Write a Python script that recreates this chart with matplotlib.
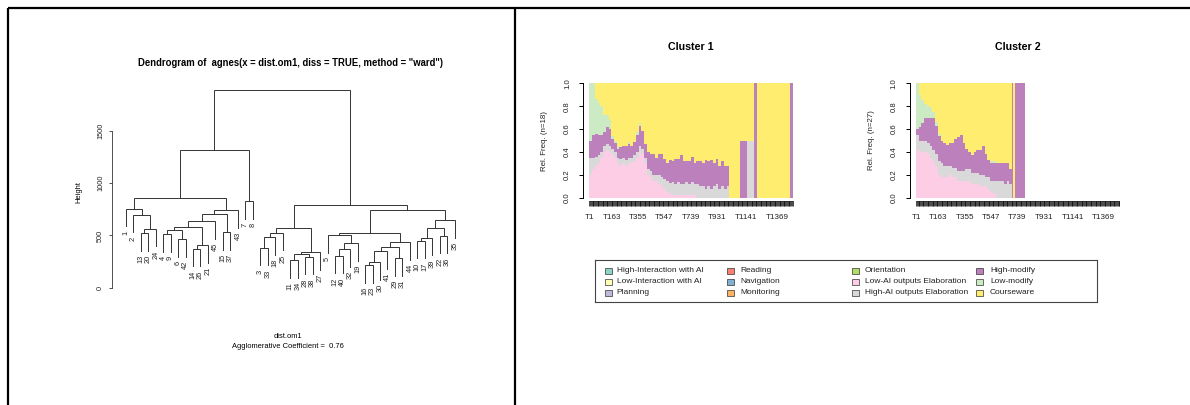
import matplotlib
matplotlib.use("Agg")
import matplotlib.pyplot as plt
from matplotlib.lines import Line2D
from matplotlib.patches import Rectangle

plt.rcParams['font.family'] = ['Liberation Sans', 'DejaVu Sans']

W, H = 1190, 405

# ---- dendrogram data: R-style merge list, negative = leaf label,
# positive = earlier merge (1-based), plus the merge height
merges = [
    (-13, -20, 522), (1, -24, 564), (-2, 2, 697), (-1, 3, 755),
    (-4, -9, 510), (-6, -42, 465), (5, 6, 551), (-14, -26, 373),
    (8, -21, 404), (7, 9, 580), (10, -45, 634), (-15, -37, 529),
    (11, 12, 710), (13, -43, 742), (4, 14, 863), (-7, -8, 828),
    (15, 16, 1315), (-3, -33, 382), (18, -18, 484), (19, -25, 525),
    (-11, -34, 264), (-28, -38, 296), (21, 22, 325), (23, -27, 338),
    (20, 24, 576), (-12, -40, 306), (26, -32, 369), (27, -19, 424),
    (-5, 28, 503), (-16, -23, 213), (30, -30, 242), (31, -41, 350),
    (-29, -31, 280), (32, 33, 392), (34, -44, 433), (29, 35, 525),
    (-10, -17, 449), (37, -39, 478), (-22, -36, 497), (38, 39, 567),
    (40, -35, 646), (36, 41, 742), (25, 42, 790), (17, 43, 1895),
]
height_ticks = [0, 500, 1000, 1500]
agglo_coef = 0.76

# ---- state distribution plots (TraMineR seqdplot style)
states = ['High-Interaction with AI', 'Low-Interaction with AI', 'Planning',
          'Reading', 'Navigation', 'Monitoring', 'Orientation',
          'Low-AI outputs Elaboration', 'High-AI outputs Elaboration',
          'High-modify', 'Low-modify', 'Courseware']
state_colors = ['#8DD3C7', '#FFFFB3', '#BEBADA', '#FB8072', '#80B1D3',
                '#FDB462', '#B3DE69', '#FCCDE5', '#D9D9D9', '#BC80BD',
                '#CCEBC5', '#FFED6F']
seq_length = 1488
xtick_step = 6
xtick_shown = [1, 163, 355, 547, 739, 931, 1141, 1369]

# cluster 1 (n=18): bin start positions and % per state
c1_n = 18
c1_end = 1488
c1_start = list(range(0, 1020, 20)) + [1020, 1100, 1150, 1200, 1225, 1465]
c1_lowai = [20, 25, 28, 30, 35, 40, 42, 40, 38, 35, 30, 28, 30, 28, 30, 30, 32, 35, 40, 38,
            30, 20, 18, 15, 15, 12, 10, 8, 5, 3, 2, 2, 2, 2, 2, 2, 2, 2, 2, 0,
            0, 0, 0, 0, 0, 0, 0, 0, 0, 0, 0, 0, 0, 0, 0, 0, 0]
c1_highai = [15, 10, 8, 7, 5, 5, 5, 5, 5, 5, 5, 6, 5, 5, 5, 5, 5, 5, 5, 5,
             5, 5, 5, 5, 5, 8, 8, 8, 10, 10, 12, 10, 12, 10, 10, 12, 10, 12, 10, 12,
             10, 10, 8, 10, 8, 10, 12, 8, 10, 8, 10, 0, 0, 50, 0, 0, 0]
c1_highmod = [15, 20, 20, 18, 15, 12, 15, 15, 8, 8, 8, 10, 10, 12, 12, 10, 12, 15, 18, 15,
              12, 15, 15, 18, 15, 18, 20, 18, 15, 20, 18, 22, 20, 25, 20, 18, 20, 22, 18, 20,
              22, 20, 25, 22, 25, 20, 22, 20, 22, 20, 18, 0, 50, 0, 100, 0, 100]
c1_lowmod = [50, 45, 30, 28, 25, 15, 10, 8, 3, 2, 2, 0, 0, 0, 2, 0, 0, 2, 2, 0,
             0, 0, 0, 0, 0, 0, 0, 0, 0, 0, 0, 0, 0, 0, 0, 0, 0, 0, 0, 0,
             0, 0, 0, 0, 0, 0, 0, 0, 0, 0, 0, 0, 0, 0, 0, 0, 0]
c1_course = [0, 0, 14, 17, 20, 28, 28, 32, 46, 50, 55, 56, 55, 55, 51, 55, 51, 43, 35, 42,
             53, 60, 62, 62, 65, 62, 62, 66, 70, 67, 68, 66, 66, 63, 68, 68, 68, 64, 70, 68,
             68, 70, 67, 68, 67, 70, 66, 72, 68, 72, 72, 100, 50, 50, 0, 100, 0]

# cluster 2 (n=27)
c2_n = 27
c2_end = 792
c2_start = list(range(0, 700, 20)) + [700, 710, 718]
c2_lowai = [42, 40, 40, 40, 38, 35, 32, 28, 20, 18, 18, 18, 20, 18, 18, 15, 15, 15, 15, 15,
            12, 12, 12, 10, 10, 10, 8, 5, 3, 0, 0, 0, 0, 0, 0, 0, 0, 0]
c2_highai = [13, 10, 10, 10, 10, 10, 10, 10, 12, 12, 10, 10, 8, 8, 8, 8, 8, 8, 10, 10,
             10, 10, 10, 10, 10, 8, 10, 10, 12, 15, 15, 15, 12, 15, 12, 0, 0, 0]
c2_highmod = [5, 12, 15, 20, 22, 25, 28, 25, 22, 20, 20, 18, 20, 22, 25, 30, 32, 25, 18, 15,
              15, 18, 20, 22, 25, 20, 15, 15, 15, 15, 15, 15, 18, 15, 13, 100, 0, 100]
c2_lowmod = [40, 28, 20, 12, 10, 8, 5, 3, 2, 0, 0, 0, 0, 0, 0, 0, 0, 0, 0, 0,
             0, 0, 0, 0, 0, 0, 0, 2, 2, 0, 0, 0, 0, 0, 0, 0, 0, 0]
c2_course = [0, 10, 15, 18, 20, 22, 25, 34, 44, 50, 52, 54, 52, 52, 49, 47, 45, 52, 57, 60,
             63, 60, 58, 58, 55, 62, 67, 68, 68, 70, 70, 70, 70, 70, 75, 0, 100, 0]


fig = plt.figure(figsize=(W / 100, H / 100), dpi=100)


def px_axes(x0, y0, x1, y1):
    return fig.add_axes([x0 / W, 1 - y1 / H, (x1 - x0) / W, (y1 - y0) / H])


def ftext(x, y, s, **kw):
    fig.text(x / W, 1 - y / H, s, **kw)


# ---- panel borders
for xs, ys in [([7.7, W], [8.3, 8.3]), ([7.7, 7.7], [8.3, H]), ([514.5, 514.5], [8.3, H])]:
    fig.add_artist(Line2D([x / W for x in xs], [1 - y / H for y in ys],
                          color='black', lw=1.6, solid_capstyle='butt'))

# ---- dendrogram
leaf_px0, leaf_dx = 125.7, 7.4795
unit_px = 0.10447
ax = px_axes(111.7, 80, 470, 300)
ax.set_xlim(1 + (111.7 - leaf_px0) / leaf_dx, 1 + (470 - leaf_px0) / leaf_dx)
ax.set_ylim((287.7 - 300) / unit_px, (287.7 - 80) / unit_px)

heights = [m[2] for m in merges]
hang = 0.1 * (max(heights) - min(heights))
node_x = {}
counter = [0]


def place(idx):
    # left-first traversal gives leaf order and node centres
    a, b, h = merges[idx - 1]
    xs = []
    for child in (a, b):
        if child < 0:
            counter[0] += 1
            xs.append(counter[0])
        else:
            xs.append(place(child))
    node_x[idx] = sum(xs) / 2
    return node_x[idx]


place(len(merges))
counter[0] = 0


def draw(idx):
    a, b, h = merges[idx - 1]
    pts = []
    for child in (a, b):
        if child < 0:
            counter[0] += 1
            x, y = counter[0], h - hang
            ax.annotate(str(-child), (x, y), xytext=(0, -3), textcoords='offset points',
                        rotation=90, ha='center', va='top', fontsize=5.3,
                        color='#222222', annotation_clip=False)
        else:
            draw(child)
            x, y = node_x[child], merges[child - 1][2]
        pts.append((x, y))
    (xl, yl), (xr, yr) = pts
    ax.plot([xl, xl, xr, xr], [yl, h, h, yr], color='#333333', lw=0.7,
            solid_joinstyle='miter', clip_on=False)


draw(len(merges))

for s in ['top', 'right', 'bottom']:
    ax.spines[s].set_visible(False)
ax.spines['left'].set_bounds(height_ticks[0], height_ticks[-1])
ax.spines['left'].set_linewidth(0.6)
ax.spines['left'].set_color('#333333')
ax.set_xticks([])
ax.set_yticks(height_ticks)
ax.tick_params(axis='y', length=2.5, width=0.6, color='#333333', pad=3,
               labelsize=5.3, labelrotation=90, labelcolor='#222222')
for lab in ax.get_yticklabels():
    lab.set_va('center')

ftext(290, 62.7, 'Dendrogram of  agnes(x = dist.om1, diss = TRUE, method = "ward")',
      ha='center', va='center', fontsize=6.85, fontweight='bold')
ftext(79, 192, 'Height', rotation=90, ha='center', va='center', fontsize=5.4)
ftext(288, 336, 'dist.om1', ha='center', va='center', fontsize=5.4)
ftext(288, 346.5, 'Agglomerative Coefficient =  %.2f' % agglo_coef,
      ha='center', va='center', fontsize=5.4)

# ---- state distribution plots
px_per_pos = 0.1372
tick_all = [p - 0.5 for p in range(1, seq_length + 1, xtick_step)]
tick_major = [p - 0.5 for p in xtick_shown]


def dist_plot(axis_px, x0_px, title, n, starts, end, layers):
    a = px_axes(axis_px, 83.3, x0_px + 1520 * px_per_pos, 197.7)
    a.set_xlim((axis_px - x0_px) / px_per_pos, 1520)
    a.set_ylim(0, 1)
    edges = starts + [end]
    widths = [e1 - e0 for e0, e1 in zip(edges[:-1], edges[1:])]
    bottom = [0.0] * len(starts)
    for vals, col in layers:
        h = [v / 100 for v in vals]
        a.bar(starts, h, width=widths, bottom=bottom, align='edge', color=col,
              linewidth=0, antialiased=False)
        bottom = [b + v for b, v in zip(bottom, h)]
    for s in ['top', 'right']:
        a.spines[s].set_visible(False)
    a.spines['left'].set_bounds(0, 1)
    a.spines['left'].set_linewidth(0.7)
    a.spines['bottom'].set_position(('outward', 2.3))
    a.spines['bottom'].set_bounds(tick_all[0], tick_all[-1])
    a.spines['bottom'].set_linewidth(0.5)
    a.set_yticks([0, 0.2, 0.4, 0.6, 0.8, 1.0])
    a.set_yticklabels(['0.0', '0.2', '0.4', '0.6', '0.8', '1.0'])
    a.tick_params(axis='y', length=2.9, width=0.7, pad=6, labelsize=5.6,
                  labelrotation=90, labelcolor='#222222')
    for lab in a.get_yticklabels():
        lab.set_va('center')
    a.set_xticks(tick_all, minor=True)
    a.set_xticks(tick_major)
    a.set_xticklabels(['T%d' % p for p in xtick_shown])
    a.tick_params(axis='x', which='both', length=3.4, width=0.5, color='black')
    a.tick_params(axis='x', which='major', pad=5.8, labelsize=5.8, labelcolor='#222222')
    ftext(x0_px + 102, 47.3, title, ha='center', va='center', fontsize=7.7,
          fontweight='bold')
    ftext(axis_px - 38.3, 140.5, 'Rel. Freq. (n=%d)' % n, rotation=90,
          ha='center', va='center', fontsize=5.7, color='#222222')
    return a


dist_plot(583.3, 589.3, 'Cluster 1', c1_n, c1_start, c1_end,
          [(c1_lowai, state_colors[7]), (c1_highai, state_colors[8]),
           (c1_highmod, state_colors[9]), (c1_lowmod, state_colors[10]),
           (c1_course, state_colors[11])])
dist_plot(910, 916, 'Cluster 2', c2_n, c2_start, c2_end,
          [(c2_lowai, state_colors[7]), (c2_highai, state_colors[8]),
           (c2_highmod, state_colors[9]), (c2_lowmod, state_colors[10]),
           (c2_course, state_colors[11])])

# ---- legend box
lx0, ly0, lx1, ly1 = 595, 260, 1096.7, 301.7
la = px_axes(lx0, ly0, lx1, ly1)
la.set_xlim(lx0, lx1)
la.set_ylim(ly1, ly0)
la.set_xticks([])
la.set_yticks([])
for s in la.spines.values():
    s.set_linewidth(0.8)
    s.set_color('#444444')
sq_x = [608.3, 730, 855, 979.3]
txt_x = [616.7, 740.7, 865, 990]
row_y = [270.7, 281.7, 292.7]
for i, (name, col) in enumerate(zip(states, state_colors)):
    c, r = i // 3, i % 3
    la.add_patch(Rectangle((sq_x[c] - 3.5, row_y[r] - 2.8), 7, 5.6, facecolor=col,
                           edgecolor='#333333', lw=0.5))
    la.text(txt_x[c], row_y[r], name, ha='left', va='center', fontsize=6,
            color='#222222')

fig.savefig('out.png', dpi=100)
